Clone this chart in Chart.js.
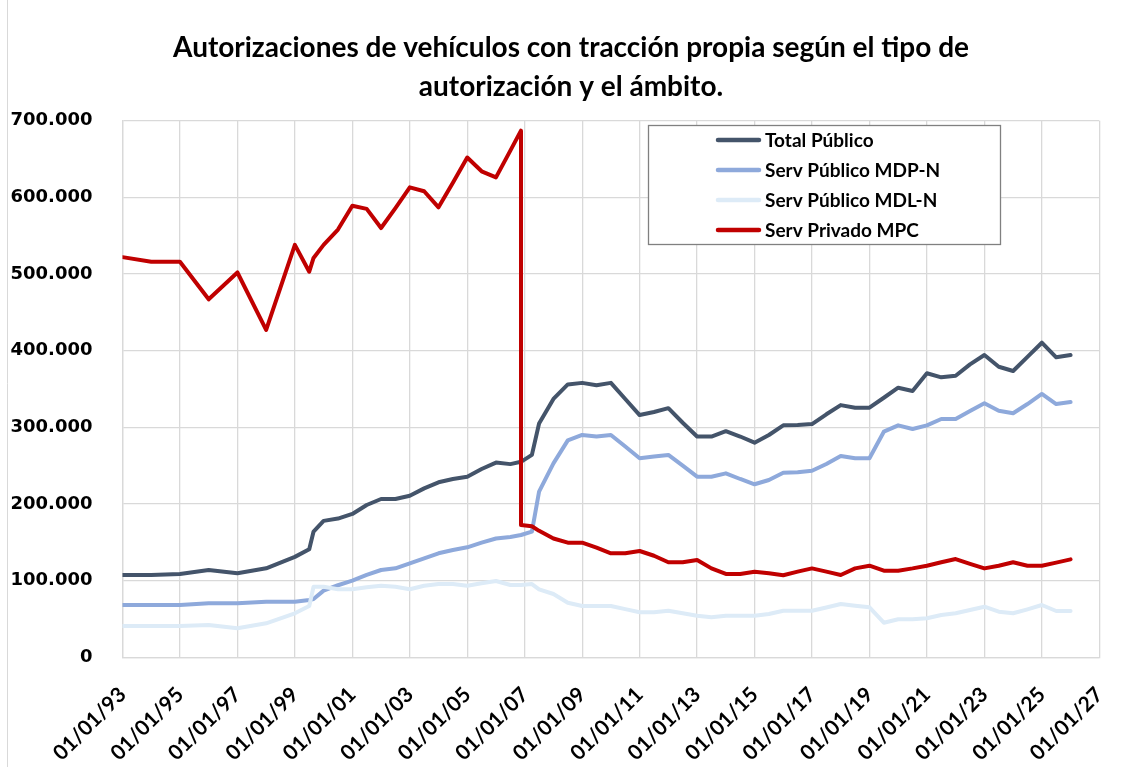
<!DOCTYPE html>
<html>
<head>
<meta charset="utf-8">
<script src="https://cdn.jsdelivr.net/npm/chart.js@4.4.1/dist/chart.umd.min.js"></script>
<style>
html,body{margin:0;padding:0;background:#fff;}
#wrap{width:1125px;height:767px;position:relative;}
</style>
</head>
<body>
<div id="wrap"><canvas id="c" width="1125" height="767"></canvas></div>
<script>
const titleLines = ["Autorizaciones de vehículos con tracción propia según el tipo de", "autorización y el ámbito."];
const seriesNames = ["Total Público", "Serv Público MDP-N", "Serv Público MDL-N", "Serv Privado MPC"];
const xTickLabels = ["01/01/93","01/01/95","01/01/97","01/01/99","01/01/01","01/01/03","01/01/05","01/01/07","01/01/09","01/01/11","01/01/13","01/01/15","01/01/17","01/01/19","01/01/21","01/01/23","01/01/25","01/01/27"];
const yTickLabels = ["0","100.000","200.000","300.000","400.000","500.000","600.000","700.000"];

// dates as fractional years
const dates = [1993,1994,1995,1996,1997,1998,1999,1999.5,1999.65,2000,2000.5,2001,2001.5,2002,2002.5,2003,2003.5,2004,2004.5,2005,2005.5,2006,2006.5,2006.87,2006.87,2007.25,2007.5,2008,2008.5,2009,2009.5,2010,2010.5,2011,2011.5,2012,2012.5,2013,2013.5,2014,2014.5,2015,2015.5,2016,2016.5,2017,2017.5,2018,2018.5,2019,2019.5,2020,2020.5,2021,2021.5,2022,2022.5,2023,2023.5,2024,2024.5,2025,2025.5,2026];

const totalPublico = [107400,107400,108700,113900,109600,116100,131000,141000,164000,178000,181000,187000,198700,206500,206500,210800,220400,228300,232600,235600,245600,254000,252000,255000,255000,264000,305000,337000,356000,358000,355000,358000,337000,316000,320000,325000,306000,288000,288000,295000,288000,280000,290000,302600,303000,304300,317000,329000,325600,325600,338600,351700,347400,370500,365200,367300,382200,394300,379000,373500,392000,410400,391300,394300];

const servMDP = [68200,68200,68200,70400,70400,72600,72600,74700,76000,87000,94000,100000,107400,113900,116100,122600,129100,135700,140000,143500,149500,155000,157000,159500,159500,164000,216000,253000,283000,290000,288000,290000,275000,259600,262000,264000,250000,235600,235600,240000,232600,225700,231300,240800,241500,243400,252200,262600,259600,259600,294300,302600,297800,302600,310900,310900,321300,331300,321700,318300,330400,343500,330400,333000];

const servMDL = [40800,40800,40800,42100,37800,44300,57400,67000,92000,92100,88700,88700,91300,93400,92100,88700,93400,95600,95600,93400,96500,99500,94300,94300,94300,95600,88700,82600,71200,66900,66900,66900,62800,58700,58700,60800,57400,54300,52200,54300,54300,54300,56500,60800,60800,60800,65000,69500,67300,65200,45100,49600,49600,50900,55200,57400,61700,66000,59500,57400,62600,68200,60400,60400];

const servPrivadoMPC = [522000,516000,516000,467000,502000,427000,538000,503000,521000,538000,558000,589000,585000,560000,586000,613000,608000,587000,619000,652000,634000,626000,661000,687000,172600,171000,165000,155000,149500,149500,143000,135700,135700,138700,132500,124000,124000,127000,116000,108700,108700,111700,109600,107000,111700,116000,111700,107400,116000,119500,113000,113000,116000,119500,124000,128200,122000,116000,119500,124000,119500,119500,123500,127800];

const colors = ["#44546A", "#8EA9DB", "#DDEBF7", "#C00000"];
const seriesValues = [totalPublico, servMDP, servMDL, servPrivadoMPC];

const toPoints = (vals) => dates.map((d, i) => ({ x: d, y: vals[i] }));

const datasets = seriesValues.map((vals, k) => ({
  label: seriesNames[k],
  data: toPoints(vals),
  borderColor: colors[k],
  backgroundColor: colors[k],
  borderWidth: 4,
  pointRadius: 0,
  tension: 0,
  fill: false,
  borderJoinStyle: 'round',
  borderCapStyle: 'round',
  order: 4 - k
}));

const bgPlugin = {
  id: 'bg',
  beforeDraw(chart) {
    const ctx = chart.ctx;
    ctx.save();
    ctx.fillStyle = '#ffffff';
    ctx.fillRect(0, 0, chart.width, chart.height);
    ctx.strokeStyle = '#D9D9D9';
    ctx.lineWidth = 1;
    ctx.beginPath();
    ctx.moveTo(7.5, 0);
    ctx.lineTo(7.5, chart.height);
    ctx.stroke();
    ctx.restore();
  }
};

const titlePlugin = {
  id: 'chartTitle',
  afterDraw(chart) {
    const ctx = chart.ctx;
    ctx.save();
    ctx.fillStyle = '#000000';
    ctx.font = 'bold 28px Lato';
    ctx.textAlign = 'center';
    ctx.textBaseline = 'middle';
    titleLines.forEach((t, i) => ctx.fillText(t, 571, 48 + i * 39));
    ctx.restore();
  }
};

const boxLegend = {
  id: 'boxLegend',
  afterDatasetsDraw(chart) {
    const ctx = chart.ctx;
    const bx = 648.5, by = 125.5, bw = 352, bh = 119;
    ctx.save();
    ctx.fillStyle = '#ffffff';
    ctx.fillRect(bx, by, bw, bh);
    ctx.strokeStyle = '#808080';
    ctx.lineWidth = 1.3;
    ctx.strokeRect(bx, by, bw, bh);
    const rows = [140, 170, 200, 230];
    chart.data.datasets.forEach((ds, i) => {
      const y = rows[i];
      ctx.strokeStyle = ds.borderColor;
      ctx.lineWidth = 4.5;
      ctx.lineCap = 'round';
      ctx.beginPath();
      ctx.moveTo(718, y);
      ctx.lineTo(759, y);
      ctx.stroke();
      ctx.fillStyle = '#000000';
      ctx.font = 'bold 19px Lato';
      ctx.textBaseline = 'middle';
      ctx.textAlign = 'left';
      ctx.fillText(ds.label, 765, y + 1);
    });
    ctx.restore();
  }
};

new Chart(document.getElementById('c'), {
  type: 'line',
  data: { datasets },
  plugins: [bgPlugin, boxLegend, titlePlugin],
  options: {
    responsive: false,
    animation: false,
    devicePixelRatio: 1,
    layout: { padding: { top: 120.7, left: 0, right: 25.7, bottom: 0 } },
    plugins: {
      legend: { display: false },
      tooltip: { enabled: false },
      title: { display: false }
    },
    scales: {
      x: {
        type: 'linear',
        min: 1993,
        max: 2027,
        afterFit(scale) { scale.height = 109.7; scale.paddingLeft = 0; scale.paddingRight = 0; },
        afterBuildTicks(scale) {
          scale.ticks = xTickLabels.map((_, i) => ({ value: 1993 + 2 * i }));
        },
        ticks: {
          autoSkip: false,
          maxRotation: 45,
          minRotation: 45,
          padding: 25,
          color: '#000000',
          font: { family: 'Lato', weight: 'bold', size: 21 },
          callback: (v, i) => xTickLabels[i]
        },
        grid: { color: '#D9D9D9', lineWidth: 1.3, drawTicks: false },
        border: { display: true, color: '#D9D9D9', width: 1.3 }
      },
      y: {
        min: 0,
        max: 700000,
        afterFit(scale) { scale.width = 122.5; scale.paddingTop = 0; scale.paddingBottom = 0; },
        afterBuildTicks(scale) {
          scale.ticks = yTickLabels.map((_, i) => ({ value: i * 100000 }));
        },
        ticks: {
          padding: 30,
          color: '#000000',
          font: { family: 'DejaVu Sans', weight: 'bold', size: 18 },
          callback: (v, i) => yTickLabels[i]
        },
        grid: { color: '#D9D9D9', lineWidth: 1.3, drawTicks: false },
        border: { display: true, color: '#D9D9D9', width: 1.3 }
      }
    }
  }
});
</script>
</body>
</html>
